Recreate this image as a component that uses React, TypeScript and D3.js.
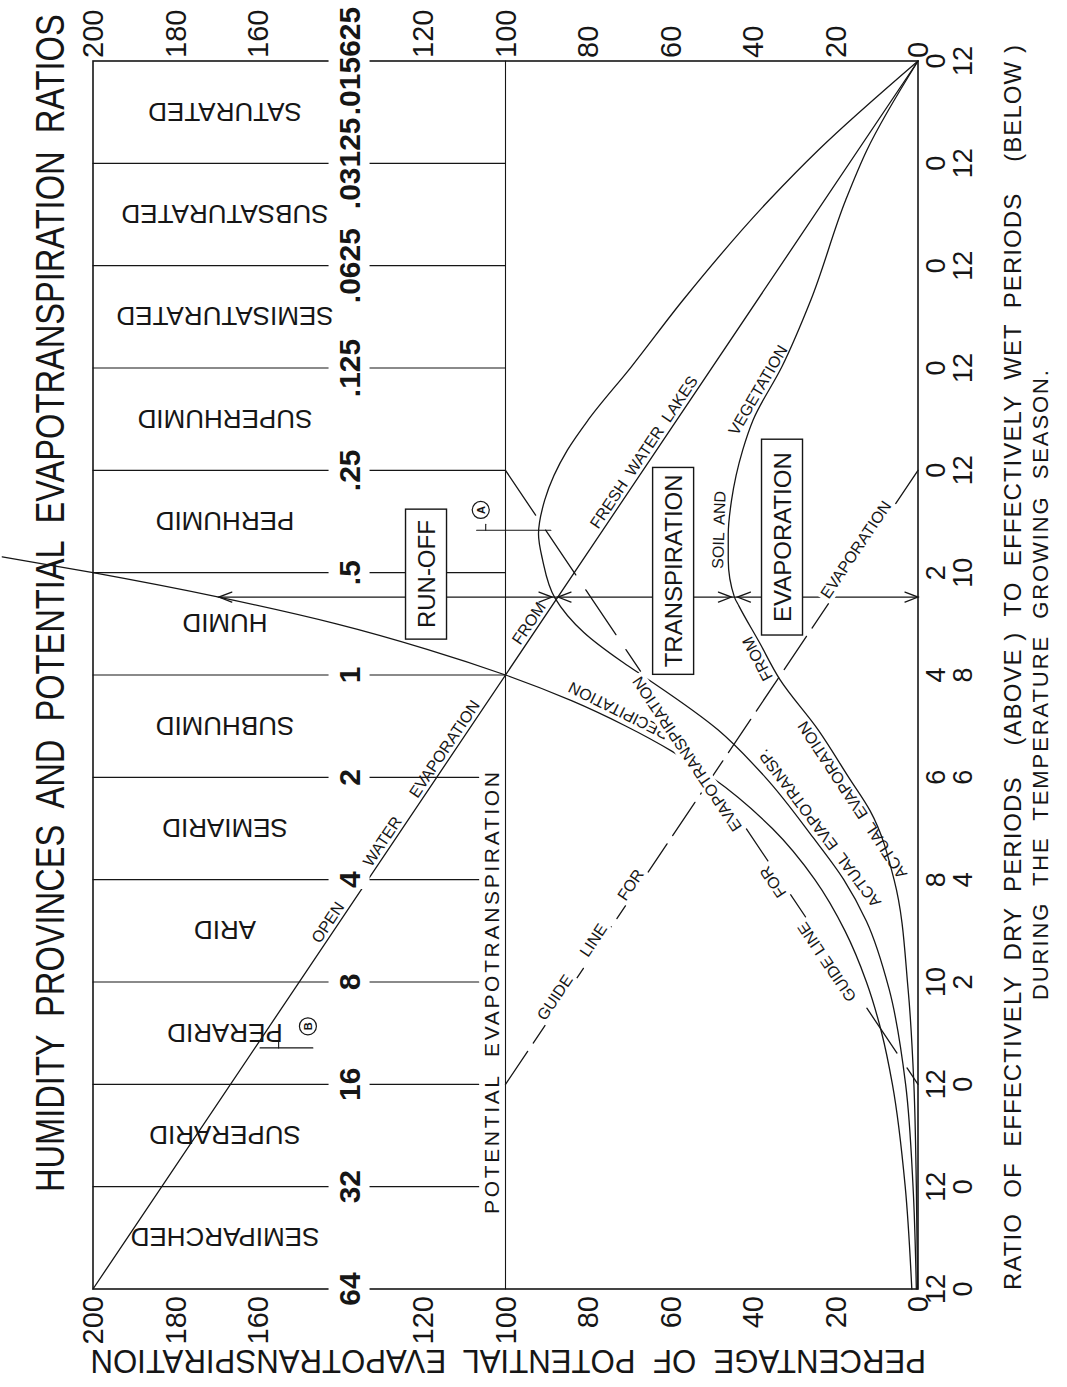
import React, { useRef, useEffect } from 'react';
import * as d3 from 'd3';

// ratio of potential evapotranspiration to precipitation, from the bottom (64) to the top (1/64)
const ratioTicks = [64, 32, 16, 8, 4, 2, 1, 0.5, 0.25, 0.125, 0.0625, 0.03125, 0.015625];
const ratioLabels = ['64', '32', '16', '8', '4', '2', '1', '.5', '.25', '.125', '.0625', '.03125', '.015625'];
const dryPeriods = [12, 12, 12, 10, 8, 6, 4, 2, 0, 0, 0, 0, 0];
const wetPeriods = [0, 0, 0, 2, 4, 6, 8, 10, 12, 12, 12, 12, 12];
const provinces = [
    'SEMIPARCHED', 'SUPERARID', 'PERARID', 'ARID', 'SEMIARID', 'SUBHUMID',
    'HUMID', 'PERHUMID', 'SUPERHUMID', 'SEMISATURATED', 'SUBSATURATED', 'SATURATED',
];
const pctTicks = [200, 180, 160, 120, 100, 80, 60, 40, 20, 0];

// [ratio, percentage of potential evapotranspiration]
const openWater = [[0.015625, 0], [64, 200]];
const precipitation = [
    [0.449, 222], [0.5, 200], [0.59, 169.5], [0.707, 141], [0.84, 119], [1, 100], [1.19, 84],
    [1.41, 71], [1.68, 59.5], [2, 50], [2.83, 35.3], [4, 25], [5.66, 17.7], [8, 12.5],
    [11.3, 8.8], [16, 6.2], [32, 3.1], [64, 1.5],
];
const actualET = [
    [0.015625, 0], [0.0286, 24.2], [0.04, 36], [0.079, 57], [0.124, 69.5], [0.178, 80],
    [0.218, 85], [0.306, 90.5], [0.385, 92], [0.459, 91], [0.594, 88], [0.75, 81], [0.91, 72],
    [1, 67], [1.45, 48.5], [2, 37], [3, 25.5], [4, 18], [5.3, 12.5], [8.4, 7], [16, 3],
    [32, 1.2], [64, 0.4],
];
const actualEvap = [
    [0.015625, 0], [0.0286, 12.4], [0.04, 17.5], [0.079, 26], [0.124, 33], [0.178, 40],
    [0.218, 42.5], [0.306, 45.2], [0.385, 46], [0.459, 46], [0.59, 44.5], [0.627, 43.4],
    [0.8, 38.5], [1.03, 33.5], [1.45, 24.2], [2, 16.8], [2.51, 11.6], [4, 5.8], [8.4, 2.4],
    [16, 1], [32, 0.4], [64, 0.1],
];
const guideET = [[0.25, 100], [16, 0]];
const guideEvap = [[0.25, 0], [16, 100]];

// run-off / transpiration / evaporation arrow row
const arrowRatio = 0.59;
const arrowStops = [169.5, 88, 44.5, 0];

const curveLabels = [
    { curve: 'open', ratio: 5.54, text: 'OPEN', dy: -4 },
    { curve: 'open', ratio: 3.2, text: 'WATER', dy: -4 },
    { curve: 'open', ratio: 1.71, text: 'EVAPORATION', dy: -4 },
    { curve: 'open', ratio: 0.73, text: 'FROM', dy: -4 },
    { curve: 'open', ratio: 0.229, text: 'FRESH  WATER  LAKES', dy: -4 },
    { curve: 'precip', ratio: 1.38, text: 'PRECIPITATION', dy: 16 },
    { curve: 'aet', ratio: 2.95, text: 'ACTUAL  EVAPOTRANSP.', dy: 16 },
    { curve: 'evap', ratio: 2.25, text: 'ACTUAL  EVAPORATION', dy: -4 },
    { curve: 'evap', ratio: 0.87, text: 'FROM', dy: -4 },
    { curve: 'evap', ratio: 0.375, text: 'SOIL  AND', dy: -4 },
    { curve: 'evap', ratio: 0.15, text: 'VEGETATION', dy: -4 },
];
const guideLabels = [
    { curve: 'guideEvap', ratio: 9.14, text: 'GUIDE' },
    { curve: 'guideEvap', ratio: 6.2, text: 'LINE' },
    { curve: 'guideEvap', ratio: 4.26, text: 'FOR' },
    { curve: 'guideEvap', ratio: 0.44, text: 'EVAPORATION' },
    { curve: 'guideET', ratio: 7.62, text: 'GUIDE' },
    { curve: 'guideET', ratio: 5.8, text: 'LINE' },
    { curve: 'guideET', ratio: 3.95, text: 'FOR' },
    { curve: 'guideET', ratio: 1.66, text: 'EVAPOTRANSPIRATION' },
];
const boxes = [
    { text: 'RUN-OFF', ratio: 0.505, pct: 119.3, padX: 11, padY: 7 },
    { text: 'TRANSPIRATION', ratio: 0.494, pct: 59.4, padX: 7, padY: 7 },
    { text: 'EVAPORATION', ratio: 0.393, pct: 33, padX: 13, padY: 7 },
];
const markers = [
    { id: 'A', ratio: 0.375, fromPct: 107, toPct: 89, tickPct: 104.8, circleRatio: 0.327, circlePct: 106 },
    { id: 'B', ratio: 12.5, fromPct: 159.5, toPct: 146.7, tickPct: 155, circleRatio: 10.8, circlePct: 147.9 },
];

const FONT = "'Liberation Sans', Arial, sans-serif";
const INK = '#161616';

const App: React.FC = () => {
    const svgRef = useRef<SVGSVGElement | null>(null);

    useEffect(() => {
        if (!svgRef.current) return;
        const svg = d3.select(svgRef.current);
        svg.selectAll('*').remove();

        const x = d3.scaleLinear().domain([0, 200]).range([918, 93]);
        const y = d3.scaleLog().base(2).domain([1 / 64, 64]).range([61, 1289]);

        const label = (o: any) => {
            const g = svg.append('g');
            const t = g.append('text')
                .attr('text-anchor', o.anchor || 'middle')
                .attr('dy', o.dy !== undefined ? o.dy : '0.36em')
                .attr('font-size', o.size)
                .attr('font-family', FONT)
                .attr('font-weight', o.weight || 'normal')
                .attr('fill', INK)
                .style('white-space', 'pre')
                .text(o.text);
            if (o.textLength) t.attr('textLength', o.textLength).attr('lengthAdjust', 'spacing');
            // squeeze the lettering along its own direction to fit a measured length
            let sx = 1;
            if (o.fitLength) sx = o.fitLength / (t.node() as SVGTextElement).getComputedTextLength();
            g.attr('transform', `translate(${o.x},${o.y}) rotate(${o.angle || 0}) scale(${sx},1)`);
            if (o.bg) {
                const bb = (t.node() as SVGTextElement).getBBox();
                const px = o.padX ?? 3, py = o.padY ?? 2;
                g.insert('rect', 'text')
                    .attr('x', bb.x - px).attr('y', bb.y - py)
                    .attr('width', bb.width + 2 * px).attr('height', bb.height + 2 * py)
                    .attr('fill', '#fff')
                    .attr('stroke', o.box ? INK : 'none')
                    .attr('stroke-width', 1.4);
            }
            return g;
        };

        const lines = svg.append('g').attr('fill', 'none').attr('stroke', INK).attr('stroke-linecap', 'round');

        // humidity province boundaries
        ratioTicks.slice(1, -1).forEach(r => {
            lines.append('line')
                .attr('x1', x(200)).attr('x2', x(r > 1 ? 106.5 : 100))
                .attr('y1', y(r)).attr('y2', y(r))
                .attr('stroke-width', 1.1);
        });

        // potential evapotranspiration line
        lines.append('line')
            .attr('x1', x(100)).attr('x2', x(100))
            .attr('y1', y(1 / 64)).attr('y2', y(64))
            .attr('stroke-width', 1.1);

        const lineGen = d3.line<number[]>().x(d => x(d[1])).y(d => y(d[0])).curve(d3.curveMonotoneY);
        const curves: Record<string, number[][]> = {
            open: openWater, precip: precipitation, aet: actualET, evap: actualEvap, guideET, guideEvap,
        };
        const paths: Record<string, SVGPathElement> = {};
        Object.entries(curves).forEach(([k, data]) => {
            const p = lines.append('path').attr('d', lineGen(data) as string).attr('stroke-width', 1.3);
            if (k === 'guideET') p.attr('stroke-dasharray', '54 18');
            if (k === 'guideEvap') p.attr('stroke-dasharray', '40 10');
            paths[k] = p.node() as SVGPathElement;
        });

        // arrow row
        const ya = y(arrowRatio);
        lines.append('line')
            .attr('x1', x(arrowStops[0])).attr('x2', x(0))
            .attr('y1', ya).attr('y2', ya).attr('stroke-width', 1.2);
        const head = (xt: number, dir: number) => {
            lines.append('path')
                .attr('d', `M${xt - dir * 13},${ya - 5}L${xt},${ya}L${xt - dir * 13},${ya + 5}`)
                .attr('stroke-width', 1.3);
        };
        arrowStops.forEach((s, i) => {
            if (i === 0) head(x(s), -1);
            else if (i === arrowStops.length - 1) head(x(s), 1);
            else { head(x(s) - 3, 1); head(x(s) + 3, -1); }
        });

        // frame
        lines.append('rect')
            .attr('x', x(200)).attr('y', y(1 / 64))
            .attr('width', x(0) - x(200)).attr('height', y(64) - y(1 / 64))
            .attr('stroke-width', 1.6);

        // markers A and B
        markers.forEach(m => {
            lines.append('line')
                .attr('x1', x(m.fromPct)).attr('x2', x(m.toPct))
                .attr('y1', y(m.ratio)).attr('y2', y(m.ratio)).attr('stroke-width', 1.1);
            lines.append('line')
                .attr('x1', x(m.tickPct)).attr('x2', x(m.tickPct))
                .attr('y1', y(m.ratio)).attr('y2', y(m.ratio) - 6).attr('stroke-width', 1.1);
            lines.append('circle')
                .attr('cx', x(m.circlePct)).attr('cy', y(m.circleRatio)).attr('r', 8.5).attr('stroke-width', 1.2);
            label({ x: x(m.circlePct), y: y(m.circleRatio), angle: -90, text: m.id, size: 11, weight: 'bold' });
        });

        // boxed labels
        boxes.forEach(b => {
            label({
                x: x(b.pct), y: y(b.ratio), angle: -90, text: b.text, size: 24,
                bg: true, box: true, padX: b.padX, padY: b.padY,
            });
        });

        // curve labels
        const onCurve = (key: string, ratio: number) => {
            const path = paths[key];
            const L = path.getTotalLength();
            const ty = y(ratio);
            let lo = 0, hi = L;
            for (let i = 0; i < 40; i++) {
                const mid = (lo + hi) / 2;
                if (path.getPointAtLength(mid).y < ty) lo = mid; else hi = mid;
            }
            const l = (lo + hi) / 2;
            const p = path.getPointAtLength(l);
            const a = path.getPointAtLength(Math.max(0, l - 3));
            const b = path.getPointAtLength(Math.min(L, l + 3));
            const angle = Math.atan2(a.y - b.y, a.x - b.x) * 180 / Math.PI;
            return { x: p.x, y: p.y, angle };
        };
        curveLabels.forEach(c => {
            const p = onCurve(c.curve, c.ratio);
            label({ ...p, text: c.text, size: 16, dy: c.dy });
        });
        guideLabels.forEach(c => {
            const p = onCurve(c.curve, c.ratio);
            label({ ...p, text: c.text, size: 16, dy: -2, bg: true, padX: 3, padY: 1 });
        });

        // ratio labels
        ratioTicks.forEach((r, i) => {
            label({
                x: x(138), y: y(r), angle: -90, text: ratioLabels[i], size: 30, weight: 'bold',
                bg: true, padX: 1, padY: 4,
            });
        });

        // province names
        provinces.forEach((name, i) => {
            const rc = Math.sqrt(ratioTicks[i] * ratioTicks[i + 1]);
            label({ x: x(168), y: y(rc), angle: 180, text: name, size: 26 });
        });

        // percentage axes, top and bottom
        pctTicks.forEach(p => {
            label({ x: x(p), y: y(64) + 7, angle: -90, text: String(p), size: 29, anchor: 'end' });
            label({ x: x(p), y: y(1 / 64) - 3, angle: -90, text: String(p), size: 29, anchor: 'start' });
        });

        // dry / wet period counts
        ratioTicks.forEach((r, i) => {
            label({ x: 935, y: y(r), angle: -90, text: String(dryPeriods[i]), size: 27 });
            label({ x: 962, y: y(r), angle: -90, text: String(wetPeriods[i]), size: 27 });
        });

        // potential evapotranspiration label
        label({
            x: x(100) - 14, y: y(64) - 75, angle: -90, text: 'POTENTIAL  EVAPOTRANSPIRATION',
            size: 21, anchor: 'start', textLength: 442,
        });

        // titles
        label({
            x: 50, y: 1192, angle: -90, anchor: 'start', size: 40,
            text: 'HUMIDITY  PROVINCES  AND  POTENTIAL  EVAPOTRANSPIRATION  RATIOS',
            fitLength: 1178,
        });
        label({
            x: 926, y: 1350, angle: 180, anchor: 'start', size: 33, dy: 0,
            text: 'PERCENTAGE  OF  POTENTIAL  EVAPOTRANSPIRATION',
            fitLength: 836,
        });
        label({
            x: 1012, y: 1290, angle: -90, anchor: 'start', size: 24,
            text: 'RATIO  OF  EFFECTIVELY  DRY  PERIODS    (ABOVE )  TO  EFFECTIVELY  WET  PERIODS    (BELOW )',
            textLength: 1245,
        });
        label({
            x: 1040, y: 1000, angle: -90, anchor: 'start', size: 22,
            text: 'DURING  THE  TEMPERATURE  GROWING  SEASON.',
            textLength: 630,
        });
    }, []);

    return (
        <svg
            ref={svgRef}
            width={1067}
            height={1387}
            style={{ position: 'absolute', left: 0, top: 0, background: '#fff' }}
        />
    );
};

export default App;
